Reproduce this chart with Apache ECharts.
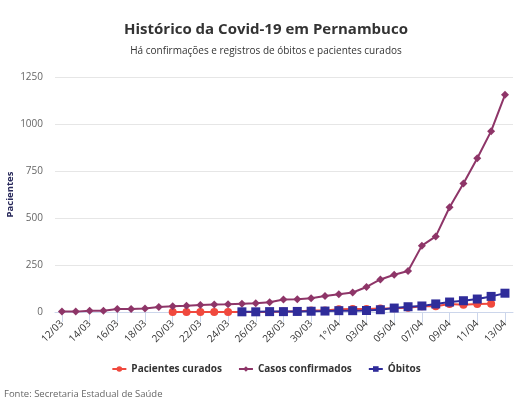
<!DOCTYPE html>
<html>
<head>
<meta charset="utf-8">
<style>
    html, body { margin: 0; padding: 0; background: #fff; }
    #chart { width: 532px; height: 407px; }
</style>
</head>
<body>
<div id="chart"></div>
<script src="https://cdn.jsdelivr.net/npm/echarts@6/dist/echarts.min.js"></script>
<script>
    // datas do eixo x
    const dias = ['12/03', '13/03', '14/03', '15/03', '16/03', '17/03', '18/03', '19/03', '20/03', '21/03',
        '22/03', '23/03', '24/03', '25/03', '26/03', '27/03', '28/03', '29/03', '30/03', '31/03',
        '1°/04', '02/04', '03/04', '04/04', '05/04', '06/04', '07/04', '08/04', '09/04', '10/04',
        '11/04', '12/04', '13/04'];

    const curados = [null, null, null, null, null, null, null, null, 0, 0,
        0, 0, 0, 0, 0, 0, 3, 3, 8, 8,
        14, 16, 16, 18, 20, 23, 30, 31, 43, 39,
        43, 44, null];

    const confirmados = [2, 2, 7, 7, 16, 16, 19, 27, 30, 33,
        37, 40, 41, 44, 46, 52, 66, 68, 73, 85,
        94, 104, 133, 173, 198, 218, 353, 402, 557, 684,
        818, 962, 1155];

    const obitos = [null, null, null, null, null, null, null, null, null, null,
        null, null, null, 1, 1, 2, 2, 3, 4, 5,
        7, 7, 8, 12, 21, 28, 32, 43, 53, 60,
        69, 83, 100];

    const rotulosX = [0, 2, 4, 6, 8, 10, 12, 14, 16, 18, 20, 22, 24, 26, 28, 30, 32];

    const pares = arr => arr.map((v, i) => [i, v]);

    let myChart = echarts.init(document.getElementById('chart'));

    let option = {
        backgroundColor: '#fff',
        animation: false,
        textStyle: { fontFamily: '"Open Sans", sans-serif' },
        title: {
            text: 'Histórico da Covid-19 em Pernambuco',
            subtext: 'Há confirmações e registros de óbitos e pacientes curados',
            left: 'center',
            top: 17,
            itemGap: 9,
            textStyle: { fontSize: 15, fontWeight: 'bold', color: '#333' },
            subtextStyle: { fontSize: 10, color: '#333' }
        },
        legend: {
            top: 359,
            left: 'center',
            itemWidth: 14,
            itemHeight: 7,
            itemGap: 16,
            textStyle: { fontSize: 10, fontWeight: 'bold', color: '#333' }
        },
        grid: { left: 55, right: 19, top: 77, bottom: 95, outerBoundsMode: 'none' },
        xAxis: {
            type: 'value',
            min: -0.5,
            max: 32.58,
            splitLine: { show: false },
            axisLine: { show: true, lineStyle: { color: '#ccd6eb' } },
            axisTick: { show: true, customValues: rotulosX, length: 10, lineStyle: { color: '#ccd6eb' } },
            axisLabel: {
                customValues: rotulosX,
                rotate: 45,
                fontSize: 10,
                color: '#333',
                margin: 10,
                formatter: v => dias[Math.round(v)]
            }
        },
        yAxis: {
            type: 'value',
            min: 0,
            max: 1250,
            interval: 250,
            name: 'Pacientes',
            nameLocation: 'middle',
            nameGap: 40,
            nameMoveOverlap: false,
            nameTextStyle: { fontSize: 9.5, fontWeight: 'bold', color: '#27285a' },
            axisLine: { show: false },
            axisTick: { show: false },
            axisLabel: { fontSize: 10, color: '#666', margin: 12, formatter: v => String(v) },
            splitLine: { lineStyle: { color: '#e6e6e6' } }
        },
        series: [
            {
                name: 'Pacientes curados',
                type: 'line',
                data: pares(curados),
                symbol: 'circle',
                symbolSize: 8,
                color: '#f0493e',
                lineStyle: { width: 2 }
            },
            {
                name: 'Casos confirmados',
                type: 'line',
                data: pares(confirmados),
                symbol: 'diamond',
                symbolSize: 8,
                color: '#8e3568',
                lineStyle: { width: 2 }
            },
            {
                name: 'Óbitos',
                type: 'line',
                data: pares(obitos),
                symbol: 'rect',
                symbolSize: 9,
                color: '#2f2c9a',
                lineStyle: { width: 2 }
            }
        ],
        graphic: [
            {
                type: 'text',
                left: 4,
                top: 389,
                style: {
                    text: 'Fonte: Secretaria Estadual de Saúde',
                    fontSize: 9.5,
                    fill: '#666',
                    fontFamily: '"Open Sans", sans-serif'
                }
            }
        ]
    };

    myChart.setOption(option);
</script>
</body>
</html>
